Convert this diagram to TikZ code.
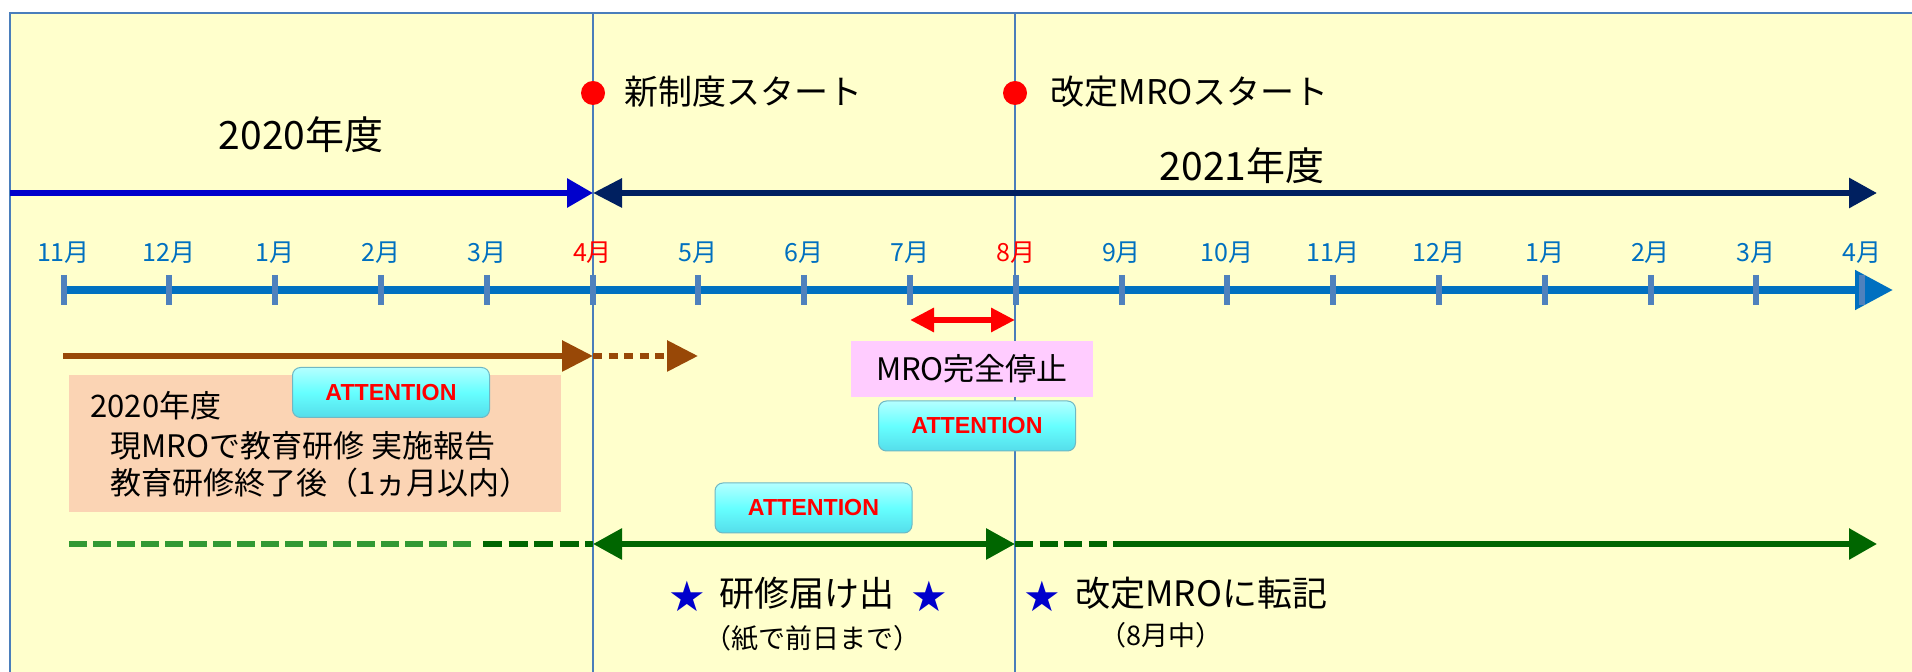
\documentclass[tikz,border=0pt]{standalone}
\usepackage{fontspec}
\setmainfont{Noto Sans CJK JP}
\newfontfamily\starfont{DejaVu Sans}
\newfontfamily\attfont{Liberation Sans}
\usepackage{tikz}
\usetikzlibrary{arrows.meta}

\definecolor{paper}{HTML}{FFFFCC}
\definecolor{frame}{HTML}{4A7EBB}
\definecolor{fyold}{HTML}{0000CC}
\definecolor{fynew}{HTML}{002060}
\definecolor{axis}{HTML}{0070C0}
\definecolor{tickc}{HTML}{4F81BD}
\definecolor{mrobrown}{HTML}{984807}
\definecolor{salmon}{HTML}{FBD4B4}
\definecolor{pinkbg}{HTML}{FFCCFF}
\definecolor{dkgreen}{HTML}{006600}
\definecolor{ltgreen}{HTML}{339933}
\definecolor{starblue}{HTML}{0000CC}
\definecolor{cyantop}{HTML}{B4FFFF}
\definecolor{cyanmid}{HTML}{66FFFF}
\definecolor{cyanbot}{HTML}{55DDEA}
\definecolor{cyanedge}{HTML}{6FB8C4}

\begin{document}
\begin{tikzpicture}[x=0.5pt,y=-0.5pt,
	txt/.style={inner sep=0pt,font=\fontsize{17}{20}\selectfont},
	year/.style={inner sep=0pt,font=\fontsize{19.5}{22}\selectfont},
	small/.style={inner sep=0pt,font=\fontsize{13.5}{16}\selectfont},
	boxtxt/.style={inner sep=0pt,anchor=west,font=\fontsize{15.5}{18}\selectfont},
	month/.style={inner sep=0pt,font=\fontsize{12.5}{14}\selectfont},
	star/.style={inner sep=0pt,text=starblue,font=\starfont\fontsize{21}{23}\selectfont},
	dot/.style={circle,fill=red,inner sep=0pt,minimum size=12pt},
	att/.style={rounded corners=4pt,top color=cyantop,bottom color=cyanbot,middle color=cyanmid,
		draw=cyanedge,line width=0.5pt,minimum width=98.5pt,minimum height=25pt,inner sep=0pt,
		text=red,font=\attfont\bfseries\fontsize{11.6}{14}\selectfont},
	vline/.style={frame,line width=0.75pt},
	fat/.style={line width=3pt}]
	\useasboundingbox (0,0) rectangle (1912,672);
	\fill[white] (0,0) rectangle (1912,672);
	\fill[paper] (10,13) rectangle (1912,672);
	\draw[vline] (1912,13) -- (10,13) -- (10,672);
	\draw[vline] (593,13) -- (593,672);
	\draw[vline] (1015,13) -- (1015,672);

	\coordinate (y0) at (10,193);
	\coordinate (y1) at (593,193);
	\coordinate (y2) at (1877,193);
	\coordinate (ax0) at (63,290);
	\coordinate (ax1) at (1893,290);
	\coordinate (r0) at (910,320);
	\coordinate (r1) at (1015,320);
	\coordinate (b0) at (63,356);
	\coordinate (b1) at (593,356);
	\coordinate (b2) at (698,356);
	\coordinate (g0) at (69,544);
	\coordinate (g1) at (471,544);
	\coordinate (g2) at (483,544);
	\coordinate (g3) at (593,544);
	\coordinate (g4) at (1015,544);
	\coordinate (g5) at (1121,544);
	\coordinate (g6) at (1877,544);

	\node[dot] (D1) at (593,93) {};
	\node[dot] (D2) at (1015,93) {};
	\node[txt,anchor=west] (T1) at (624,92) {新制度スタート};
	\node[txt,anchor=west] (T2) at (1050,92) {改定MROスタート};
	\node[year] (Y1) at (301,135) {2020年度};
	\node[year] (Y2) at (1242,166) {2021年度};

	\draw[fyold,fat,-{Triangle[length=13pt,width=14pt]}] (y0) -- (y1);
	\draw[fynew,fat,{Triangle[length=14.5pt,width=14pt]}-{Triangle[length=14pt,width=14.5pt]}] (y1) -- (y2);

	\draw[axis,line width=4pt,-{Triangle[length=19pt,width=19pt]}] (ax0) -- (ax1);
	\foreach \m/\c [count=\i from 0] in {11/axis,12/axis,1/axis,2/axis,3/axis,4/red,5/axis,6/axis,7/axis,8/red,9/axis,10/axis,11/axis,12/axis,1/axis,2/axis,3/axis,4/axis}{
		\draw[tickc,fat] ({63.5+105.8*\i},275) -- ({63.5+105.8*\i},305);
		\node[month,text=\c] (m\i) at ({63.5+105.8*\i},253) {\m 月};
	}

	\draw[red,fat,{Triangle[length=12pt,width=11.5pt]}-{Triangle[length=12pt,width=11.5pt]}] (r0) -- (r1);
	\draw[mrobrown,fat,-{Triangle[length=15.5pt,width=15pt]}] (b0) -- (b1);
	\draw[mrobrown,fat,dash pattern=on 4.5pt off 3.3pt,-{Triangle[length=15.5pt,width=15pt]}] (b1) -- (b2);

	\fill[salmon] (69,375) rectangle (561,512);
	\node[boxtxt] (S1) at (90,406) {2020年度};
	\node[boxtxt] (S2) at (110,446) {現MROで教育研修 実施報告};
	\node[boxtxt] (S3) at (110,483) {教育研修終了後（1ヵ月以内）};
	\node[fill=pinkbg,minimum width=121pt,minimum height=28pt,inner sep=0pt,font=\fontsize{15.5}{18}\selectfont] (P) at (972,369) {MRO完全停止};

	\node[att] (A1) at (391,392.5) {ATTENTION};
	\node[att] (A2) at (977,426) {ATTENTION};
	\node[att] (A3) at (813.5,508) {ATTENTION};

	\draw[ltgreen,fat,dash pattern=on 9pt off 3pt] (g0) -- (g1);
	\draw[dkgreen,fat,dash pattern=on 9.5pt off 3.3pt] (g2) -- (g3);
	\draw[dkgreen,fat,{Triangle[length=14.5pt,width=15pt]}-{Triangle[length=14.5pt,width=15pt]}] (g3) -- (g4);
	\draw[dkgreen,fat,dash pattern=on 9pt off 3.3pt] (g4) -- (g5);
	\draw[dkgreen,fat,-{Triangle[length=14pt,width=15pt]}] (g5) -- (g6);

	\node[star] (s1) at (687,596) {★};
	\node[txt,font=\fontsize{17.5}{20}\selectfont] (K1) at (806.5,593) {研修届け出};
	\node[star] (s2) at (929,596) {★};
	\node[small] (K2) at (812,638) {（紙で前日まで）};
	\node[star] (s3) at (1042,596) {★};
	\node[txt,anchor=west,font=\fontsize{17.5}{20}\selectfont] (K3) at (1075,593) {改定MROに転記};
	\node[small] (K4) at (1161,635) {（8月中）};

\end{tikzpicture}
\end{document}
